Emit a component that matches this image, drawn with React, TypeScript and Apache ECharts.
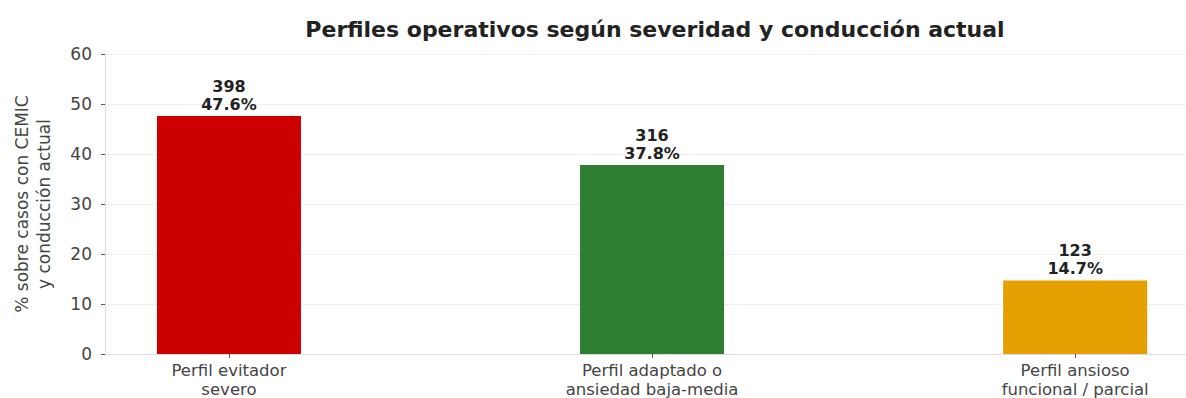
import React, { useEffect, useRef } from "react";
import * as echarts from "echarts";

const categories = ["Perfil evitador\nsevero", "Perfil adaptado o\nansiedad baja-media", "Perfil ansioso\nfuncional / parcial"];
const percents = [47.6, 37.8, 14.7];
const counts = [398, 316, 123];
const colors = ["#cc0000", "#2e7d32", "#e5a000"];

export default function App() {
  const ref = useRef<HTMLDivElement>(null);
  useEffect(() => {
    const chart = echarts.init(ref.current!, null, { renderer: "svg" });
    const font = "DejaVu Sans";
    chart.setOption({
      animation: false,
      backgroundColor: "#ffffff",
      title: {
        text: "Perfiles operativos según severidad y conducción actual",
        left: 650,
        textAlign: "center",
        top: 13,
        textStyle: { fontFamily: font, fontSize: 22, fontWeight: "bold", color: "#222" },
      },
      grid: { left: 105, right: 0, top: 54, bottom: 44, outerBoundsMode: "none", containLabel: false },
      xAxis: {
        type: "value",
        min: -0.293,
        max: 2.262,
        splitLine: { show: false },
        axisLine: { show: true, onZero: false, lineStyle: { color: "#dddddd" } },
        axisTick: { show: true, customValues: [0, 1, 2], length: 4, lineStyle: { color: "#555" } },
        axisLabel: {
          customValues: [0, 1, 2],
          formatter: (v: number) => categories[Math.round(v)],
          fontFamily: font,
          fontSize: 16.5,
          color: "#444",
          lineHeight: 19,
          margin: 7,
        },
      },
      yAxis: {
        type: "value",
        min: 0,
        max: 60,
        interval: 10,
        name: "% sobre casos con CEMIC\ny conducción actual",
        nameLocation: "middle",
        nameGap: 50,
        nameTextStyle: { fontFamily: font, fontSize: 17, color: "#444", lineHeight: 22 },
        axisLine: { show: true, onZero: false, lineStyle: { color: "#dddddd" } },
        axisTick: { show: true, length: 4, lineStyle: { color: "#555" } },
        axisLabel: { fontFamily: font, fontSize: 17, color: "#444", margin: 13 },
        splitLine: { show: true, lineStyle: { color: "#efefef" } },
      },
      series: [
        {
          type: "bar",
          barWidth: 144,
          data: percents.map((p, i) => ({
            value: [i, p],
            itemStyle: { color: colors[i] },
            label: {
              show: true,
              position: "top",
              distance: 3,
              formatter: `${counts[i]}\n${p.toFixed(1)}%`,
              fontFamily: font,
              fontSize: 16,
              fontWeight: "bold",
              color: "#222",
              lineHeight: 18,
            },
          })),
        },
      ],
    });
    return () => chart.dispose();
  }, []);
  return (
    <div
      ref={ref}
      style={{ position: "absolute", left: 0, top: 0, width: 1186, height: 398 }}
    />
  );
}
